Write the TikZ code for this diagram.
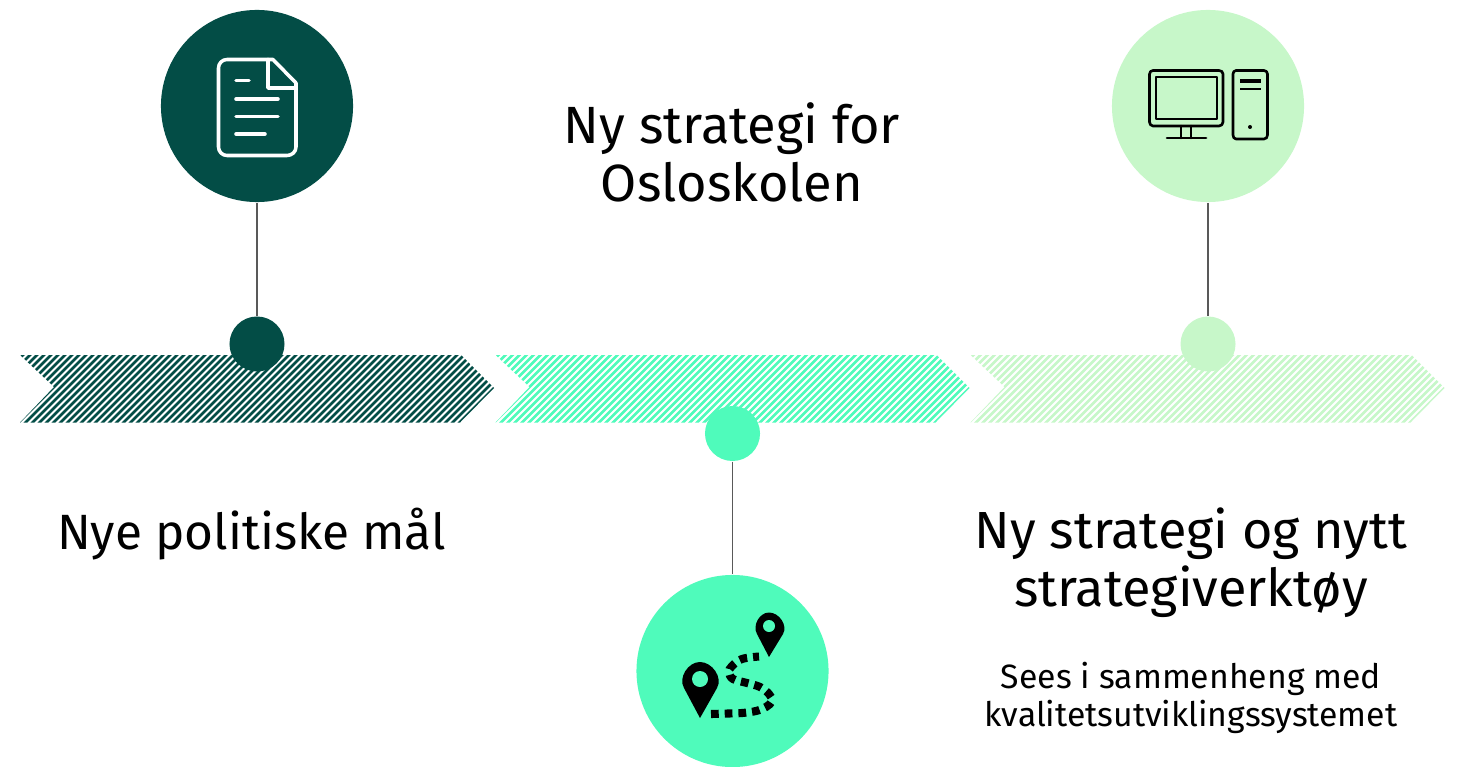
\documentclass[tikz,border=0pt]{standalone}
\usepackage{fontspec}
\setmainfont{Fira Sans}
\definecolor{darkgreen}{HTML}{034D46}
\definecolor{mintgreen}{HTML}{4FFBBB}
\definecolor{palegreen}{HTML}{C7F7C9}
\tikzset{
	bigdot/.style={circle,fill=#1,minimum size=1.92cm,inner sep=0pt},
	smalldot/.style={circle,fill=#1,minimum size=0.55cm,inner sep=0pt},
	stem/.style={draw=black!65,line width=0.4pt},
	heading/.style={align=center,font=\fontsize{#1}{16.5pt}\selectfont,inner sep=0pt},
	subheading/.style={align=center,font=\fontsize{9.6pt}{10.8pt}\selectfont,inner sep=0pt},
	iconline/.style={line width=1pt,line cap=round,line join=round}
}
\begin{document}
\begin{tikzpicture}[x=0.01cm,y=-0.01cm]
	\useasboundingbox (0,0) rectangle (1458,767);

	% Striped arrows
	\foreach \xoff/\col in {0/darkgreen,475.5/mintgreen,950.5/palegreen}{
		\begin{scope}[shift={(\xoff,0)}]
			\clip (20,355) -- (461,355) -- (494,388) -- (460,422.5) -- (20,422.5) -- (54,387) -- cycle;
			\foreach \s in {-80,-73,...,500}
				\draw[\col,line width=0.75pt] (\s,430) -- (\s+80,350);
		\end{scope}
	}

	% Circles
	\node[bigdot=darkgreen] (docbig) at (257,106) {};
	\node[smalldot=darkgreen] (docsmall) at (257,344) {};
	\node[bigdot=mintgreen] (mapbig) at (732.5,671) {};
	\node[smalldot=mintgreen] (mapsmall) at (732.5,433.5) {};
	\node[bigdot=palegreen] (pcbig) at (1208,106) {};
	\node[smalldot=palegreen] (pcsmall) at (1208,344) {};
	\draw[stem] (docbig) -- (docsmall);
	\draw[stem] (mapsmall) -- (mapbig);
	\draw[stem] (pcbig) -- (pcsmall);

	% Document icon
	\draw[iconline,white] (273,59.5) -- (227,59.5) to[out=180,in=90] (218.5,68) -- (218.5,147) to[out=270,in=180] (227,155.5) -- (287,155.5) to[out=0,in=270] (296,147) -- (296,83) -- cycle;
	\draw[iconline,white] (268,59.5) -- (268,88) -- (296,88);
	\draw[iconline,white] (236,80.5) -- (249,80.5);
	\draw[iconline,white] (236,99) -- (278,99);
	\draw[iconline,white] (236,116.5) -- (278,116.5);
	\draw[iconline,white] (236,134) -- (265,134);

	% Computer icon
	\draw[iconline,line width=0.75pt] (1149.5,74) to[out=90,in=180] (1153,70.5) -- (1219,70.5) to[out=0,in=90] (1223,74) -- (1223,122) to[out=270,in=0] (1219,126) -- (1153,126) to[out=180,in=270] (1149.5,122) -- cycle;
	\draw[iconline,line width=0.75pt] (1156,77) rectangle (1217,119);
	\draw[iconline,line width=0.75pt] (1181,126) -- (1181,138);
	\draw[iconline,line width=0.75pt] (1191,126) -- (1191,138);
	\draw[iconline,line width=0.75pt] (1167,138) -- (1206,138);
	\draw[iconline,line width=0.75pt] (1233,74) to[out=90,in=180] (1236,70.5) -- (1264,70.5) to[out=0,in=90] (1267.5,74) -- (1267.5,135) to[out=270,in=0] (1264,139) -- (1236,139) to[out=180,in=270] (1233,135) -- cycle;
	\draw[line width=0.9pt] (1240,81) -- (1261,81);
	\draw[line width=0.6pt] (1240,89) -- (1261,89);
	\fill (1250,127) circle (2);

	% Map icon
	\fill (700,718) -- (684,688) to[out=120,in=180] (700,662) to[out=0,in=60] (717,688) -- cycle;
	\fill[mintgreen] (700,679) circle (8);
	\fill (769,657) -- (757,634) to[out=120,in=180] (769,612.5) to[out=0,in=60] (783,634) -- cycle;
	\fill[mintgreen] (769,626) circle (6);
	\draw[line width=2.3pt,dash pattern=on 2.2pt off 1.7pt] plot[smooth,tension=0.6] coordinates {(711,714) (728,713.5) (742,713) (756,711) (766,707) (772,701) (769,694) (760,687) (747,683) (733,679) (729,672) (732,666) (742,659) (759,656.5)};

	% Text
	\node[heading=14.9pt] (maintitle) at (732,152) {Ny strategi for\\Osloskolen};
	\node[heading=14.1pt] (goals) at (251.5,534) {Nye politiske m\r{a}l};
	\node[heading=14.85pt] (tool) at (1191,563) {Ny strategi og nytt\\strategiverkt\o y};
	\node[subheading] (quality) at (1191,697.5) {Sees i sammenheng med\\kvalitetsutviklingssystemet};
\end{tikzpicture}
\end{document}
